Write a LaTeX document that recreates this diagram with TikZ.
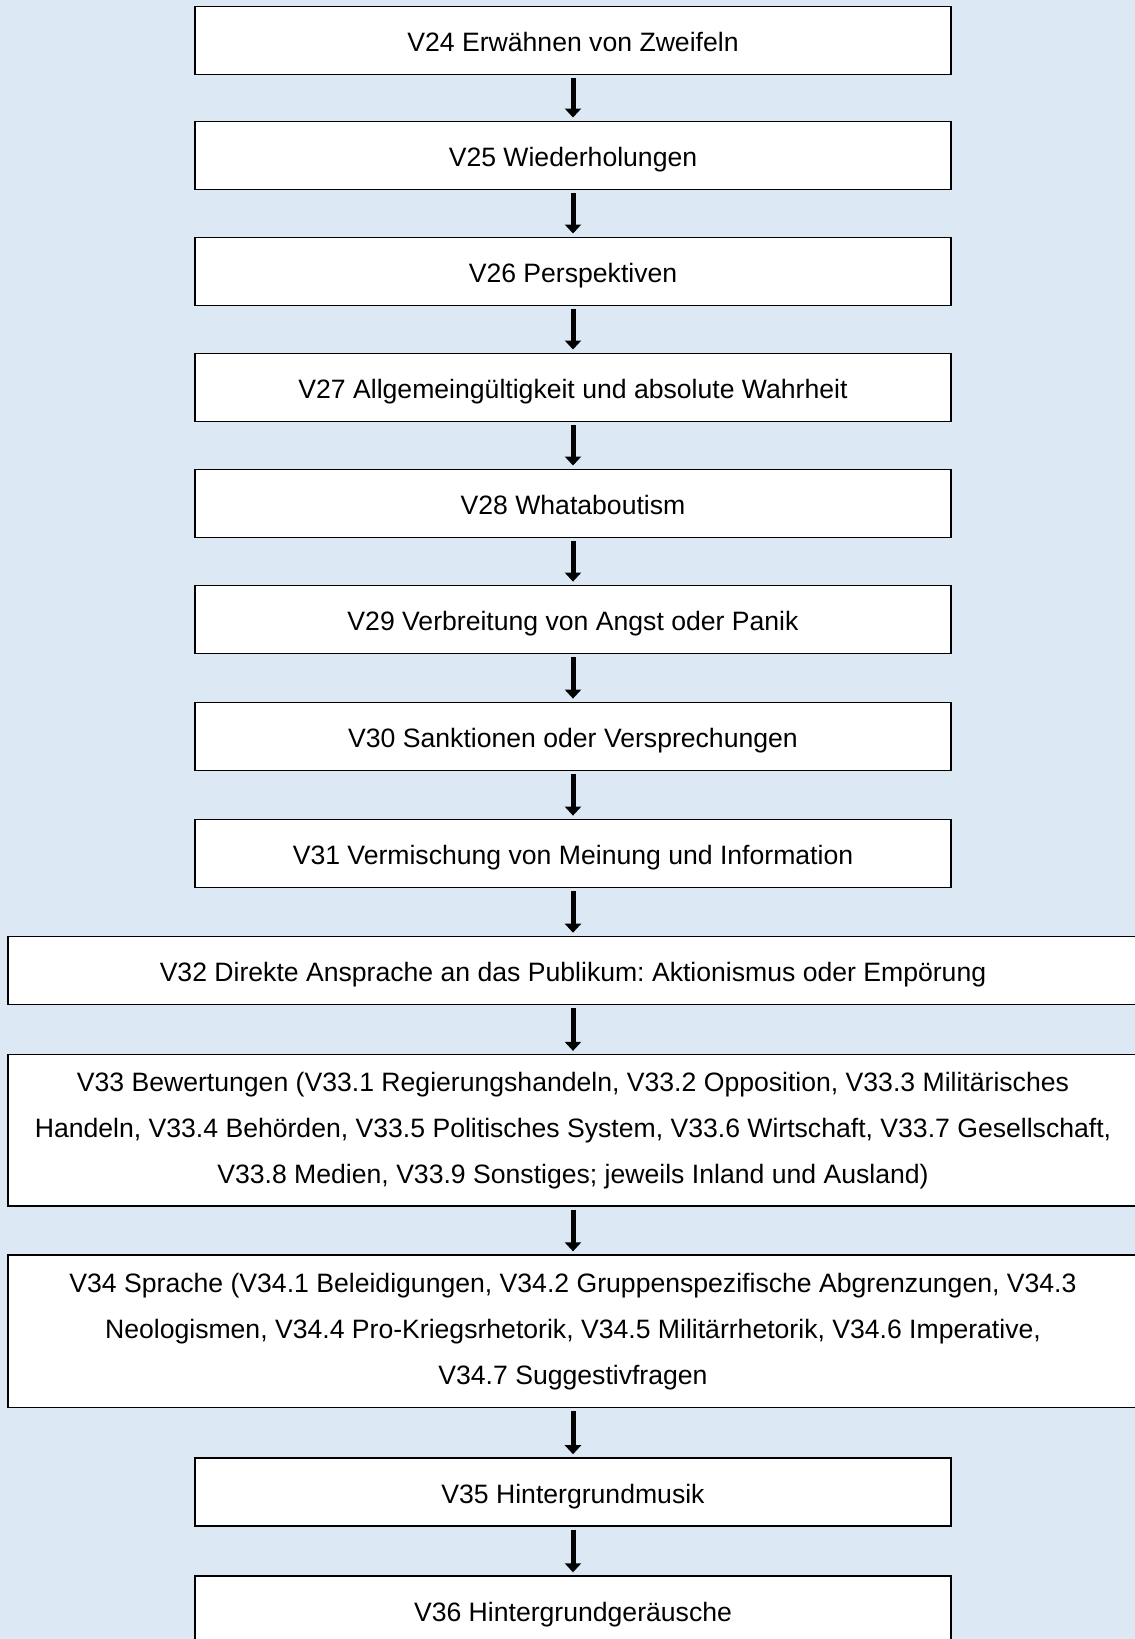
\documentclass[tikz,border=0pt]{standalone}
\usepackage{fontspec}
\setmainfont{Liberation Sans}
\usetikzlibrary{arrows.meta}
\definecolor{bgblue}{HTML}{DDE8F5}
\frenchspacing
\begin{document}
\begin{tikzpicture}[x=1pt,y=-1pt,
  basebox/.style={draw=black,fill=white,line width=1.4pt,minimum width=756pt,minimum height=68pt,
    inner sep=0pt,align=center,font=\fontsize{26.6}{46}\selectfont},
  box/.style={basebox,text height=23pt,text depth=0pt},
  widebox/.style={basebox,minimum width=1130pt},
  flow/.style={line width=5pt,-{Triangle[width=16pt,length=9pt]},shorten <=3pt,shorten >=3pt}]
\fill[bgblue] (0,0) rectangle (1135,1639);
\useasboundingbox (0,0) rectangle (1135,1639);
\node[box] (v24) at (573,40.2) {V24 Erwähnen von Zweifeln};
\node[box] (v25) at (573,155.2) {V25 Wiederholungen};
\node[box] (v26) at (573,271.2) {V26 Perspektiven};
\node[box] (v27) at (573,387.2) {V27 Allgemeingültigkeit und absolute Wahrheit};
\node[box] (v28) at (573,503.2) {V28 Whataboutism};
\node[box] (v29) at (573,619.3) {V29 Verbreitung von Angst oder Panik};
\node[box] (v30) at (573,736.3) {V30 Sanktionen oder Versprechungen};
\node[box] (v31) at (573,853.3) {V31 Vermischung von Meinung und Information};
\node[widebox,text height=23pt,text depth=0pt] (v32) at (573,970.4) {V32 Direkte Ansprache an das Publikum: Aktionismus oder Empörung};
\node[widebox,minimum height=151.5pt] (v33) at (573,1130.3) {V33 Bewertungen (V33.1 Regierungshandeln, V33.2 Opposition, V33.3 Militärisches\\Handeln, V33.4 Behörden, V33.5 Politisches System, V33.6 Wirtschaft, V33.7 Gesellschaft,\\V33.8 Medien, V33.9 Sonstiges; jeweils Inland und Ausland)};
\node[widebox,minimum height=152.7pt] (v34) at (573,1331.4) {V34 Sprache (V34.1 Beleidigungen, V34.2 Gruppenspezifische Abgrenzungen, V34.3\\Neologismen, V34.4 Pro-Kriegsrhetorik, V34.5 Militärrhetorik, V34.6 Imperative,\\V34.7 Suggestivfragen};
\node[box] (v35) at (573,1491.9) {V35 Hintergrundmusik};
\node[box] (v36) at (573,1610) {V36 Hintergrundgeräusche};
\foreach \a/\b in {v24/v25,v25/v26,v26/v27,v27/v28,v28/v29,v29/v30,v30/v31,v31/v32,v32/v33,v33/v34,v34/v35,v35/v36}
  \draw[flow] (\a.south) -- (\b.north);
\end{tikzpicture}
\end{document}
